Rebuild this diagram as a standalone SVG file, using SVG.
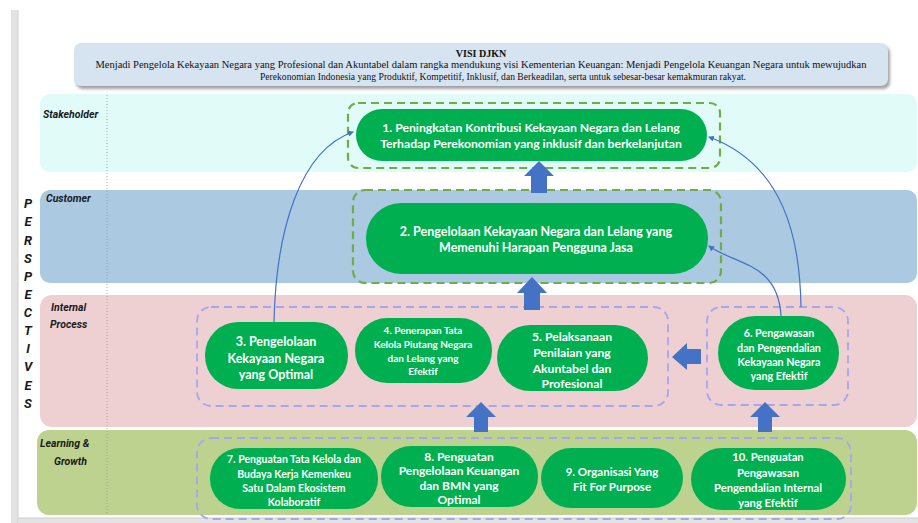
<svg xmlns="http://www.w3.org/2000/svg" width="918" height="523" viewBox="0 0 918 523">
<style>
.band{stroke:none}
.lbl{font-family:Roboto,"Liberation Sans",sans-serif;font-weight:bold;font-style:italic;font-size:10.5px;fill:#1a1a1a}
.pv{font-family:Roboto,"Liberation Sans",sans-serif;font-weight:bold;font-style:italic;font-size:13px;fill:#1a1a1a;text-anchor:middle}
.pill{fill:#00b050}
.n{font-family:Lato,"Open Sans",sans-serif;font-weight:bold;fill:#fff;text-anchor:middle}
.gd{fill:none;stroke:#70ad47;stroke-width:2.2;stroke-dasharray:8 5}
.pd{fill:none;stroke:#a3a8ec;stroke-width:1.8;stroke-dasharray:8 5}
.blk{fill:#4472c4}
.cv{fill:none;stroke:#4472c4;stroke-width:1.2;marker-end:url(#ah)}
.vis{font-family:"Liberation Serif",serif;font-size:10px;fill:#111;text-anchor:middle}
</style>
<defs>
<marker id="ah" markerWidth="6" markerHeight="6" refX="5" refY="3" orient="auto" markerUnits="userSpaceOnUse">
<path d="M0,0 L6,3 L0,6 z" fill="#4472c4"/>
</marker>
<filter id="sh" x="-5%" y="-20%" width="110%" height="150%">
<feGaussianBlur stdDeviation="1.5"/>
</filter>
</defs>
<rect x="0" y="0" width="918" height="523" fill="#fff"/>
<!-- page edges -->
<rect x="11" y="10" width="7" height="513" fill="#e3e3e3"/>
<line x1="18" y1="10" x2="18" y2="523" stroke="#cfcfcf" stroke-width="1"/>
<rect x="18" y="518" width="900" height="5" fill="#e3e3e3"/>
<line x1="18" y1="518" x2="918" y2="518" stroke="#cfcfcf" stroke-width="1"/>

<!-- vision -->
<g id="visi">
<rect x="76" y="46" width="814" height="43" rx="7" fill="#555" opacity="0.55" filter="url(#sh)"/>
<rect x="74" y="43" width="814" height="43" rx="7" fill="#d6e3f0"/>
<text class="vis" x="481" y="57" font-weight="bold">VISI DJKN</text>
<text class="vis" x="481" y="68" textLength="771" lengthAdjust="spacingAndGlyphs">Menjadi Pengelola Kekayaan Negara yang Profesional dan Akuntabel dalam rangka mendukung visi Kementerian Keuangan: Menjadi Pengelola Keuangan Negara untuk mewujudkan</text>
<text class="vis" x="503" y="80" textLength="486" lengthAdjust="spacingAndGlyphs">Perekonomian Indonesia yang Produktif, Kompetitif, Inklusif, dan Berkeadilan, serta untuk sebesar-besar kemakmuran rakyat.</text>
</g>

<!-- bands -->
<g id="bands">
<rect class="band" x="40" y="94" width="877" height="78" rx="10" fill="#e0fbf8"/>
<rect class="band" x="40" y="190" width="877" height="93" rx="10" fill="#abc9e1"/>
<rect class="band" x="40" y="295" width="877" height="132" rx="12" fill="#eecfd2"/>
<rect class="band" x="37" y="430" width="880" height="85" rx="12" fill="#bed290"/>
<line x1="107" y1="95" x2="107" y2="515" stroke="#999" stroke-width="0.8" stroke-dasharray="1 2"/>
<text class="lbl" x="43" y="118">Stakeholder</text>
<text class="lbl" x="46" y="202">Customer</text>
<text class="lbl" x="51" y="311">Internal</text>
<text class="lbl" x="50" y="328">Process</text>
<text class="lbl" x="40" y="447">Learning &amp;</text>
<text class="lbl" x="54" y="465">Growth</text>
</g>

<g id="perspectives">
<text class="pv" x="28" y="208">P</text>
<text class="pv" x="28" y="226">E</text>
<text class="pv" x="28" y="245">R</text>
<text class="pv" x="28" y="263">S</text>
<text class="pv" x="28" y="281">P</text>
<text class="pv" x="28" y="299">E</text>
<text class="pv" x="28" y="317">C</text>
<text class="pv" x="28" y="335">T</text>
<text class="pv" x="28" y="353">I</text>
<text class="pv" x="28" y="371">V</text>
<text class="pv" x="28" y="390">E</text>
<text class="pv" x="28" y="408">S</text>
</g>

<!-- group boxes -->
<g id="groups">
<rect class="gd" x="348" y="103" width="372" height="65" rx="10"/>
<rect class="gd" x="353" y="190" width="368" height="93" rx="12"/>
<rect class="pd" x="197" y="307" width="471" height="99" rx="14"/>
<rect class="pd" x="707" y="307" width="141" height="98" rx="14"/>
<rect class="pd" x="197" y="438" width="654" height="81" rx="14"/>
</g>

<g id="n1">
<rect class="pill" x="356" y="109" width="351" height="52" rx="26"/>
<text class="n" font-size="12.2"><tspan x="531" y="132">1. Peningkatan Kontribusi Kekayaan Negara dan Lelang</tspan><tspan x="531" y="148">Terhadap Perekonomian yang inklusif dan berkelanjutan</tspan></text>
</g>
<g id="n2">
<rect class="pill" x="366" y="203" width="342" height="71" rx="35"/>
<text class="n" font-size="12.5"><tspan x="536" y="236">2. Pengelolaan Kekayaan Negara dan Lelang yang</tspan><tspan x="536" y="252">Memenuhi Harapan Pengguna Jasa</tspan></text>
</g>
<g id="n3">
<rect class="pill" x="205" y="322" width="143" height="67" rx="33"/>
<text class="n" font-size="12.5"><tspan x="276" y="346">3. Pengelolaan</tspan><tspan x="276" y="363">Kekayaan Negara</tspan><tspan x="276" y="379">yang Optimal</tspan></text>
</g>
<g id="n4">
<rect class="pill" x="355" y="318" width="137" height="65" rx="32"/>
<text class="n" font-size="10"><tspan x="423" y="334">4. Penerapan Tata</tspan><tspan x="423" y="348">Kelola Piutang Negara</tspan><tspan x="423" y="362">dan Lelang yang</tspan><tspan x="423" y="375">Efektif</tspan></text>
</g>
<g id="n5">
<rect class="pill" x="497" y="325" width="151" height="66" rx="33"/>
<text class="n" font-size="12.2"><tspan x="572" y="341">5. Pelaksanaan</tspan><tspan x="572" y="357">Penilaian yang</tspan><tspan x="572" y="373">Akuntabel dan</tspan><tspan x="572" y="388">Profesional</tspan></text>
</g>
<g id="n6">
<rect class="pill" x="718" y="316" width="121" height="74" rx="37"/>
<text class="n" font-size="10.7"><tspan x="779" y="337">6. Pengawasan</tspan><tspan x="779" y="352">dan Pengendalian</tspan><tspan x="779" y="366">Kekayaan Negara</tspan><tspan x="779" y="380">yang Efektif</tspan></text>
</g>
<g id="n7">
<rect class="pill" x="210" y="448" width="168" height="61" rx="30"/>
<text class="n" font-size="10.5"><tspan x="294" y="463">7. Penguatan Tata Kelola dan</tspan><tspan x="294" y="478">Budaya Kerja Kemenkeu</tspan><tspan x="294" y="492">Satu Dalam Ekosistem</tspan><tspan x="294" y="506">Kolaboratif</tspan></text>
</g>
<g id="n8">
<rect class="pill" x="381" y="446" width="157" height="61" rx="30"/>
<text class="n" font-size="12"><tspan x="459" y="461">8. Penguatan</tspan><tspan x="459" y="475">Pengelolaan Keuangan</tspan><tspan x="459" y="490">dan BMN yang</tspan><tspan x="459" y="504">Optimal</tspan></text>
</g>
<g id="n9">
<rect class="pill" x="541" y="448" width="142" height="60" rx="30"/>
<text class="n" font-size="11.5"><tspan x="612" y="476">9. Organisasi Yang</tspan><tspan x="612" y="491">Fit For Purpose</tspan></text>
</g>
<g id="n10">
<rect class="pill" x="691" y="448" width="155" height="62" rx="31"/>
<text class="n" font-size="11.2"><tspan x="768" y="461">10. Penguatan</tspan><tspan x="768" y="477">Pengawasan</tspan><tspan x="768" y="492">Pengendalian Internal</tspan><tspan x="768" y="507">yang Efektif</tspan></text>
</g>

<!-- connectors -->
<g id="connectors">
<path class="blk" d="M539,161 L554,176 L547,176 L547,193 L531,193 L531,176 L524,176 Z"/>
<path class="blk" d="M532,277 L547,293 L540,293 L540,310 L524,310 L524,293 L517,293 Z"/>
<path class="blk" d="M672,357 L687,343 L687,349 L701,349 L701,364 L687,364 L687,370 Z"/>
<path class="blk" d="M481,402 L496,417 L488,417 L488,432 L474,432 L474,417 L466,417 Z"/>
<path class="blk" d="M765,402 L780,417 L772,417 L772,432 L758,432 L758,417 L750,417 Z"/>
<path class="cv" d="M274,322 C276,230 300,150 353,132"/>
<path class="cv" d="M801,307 C800,240 785,165 709,137"/>
<path class="cv" d="M781,316 C778,262 735,265 709,246"/>
</g>
</svg>
